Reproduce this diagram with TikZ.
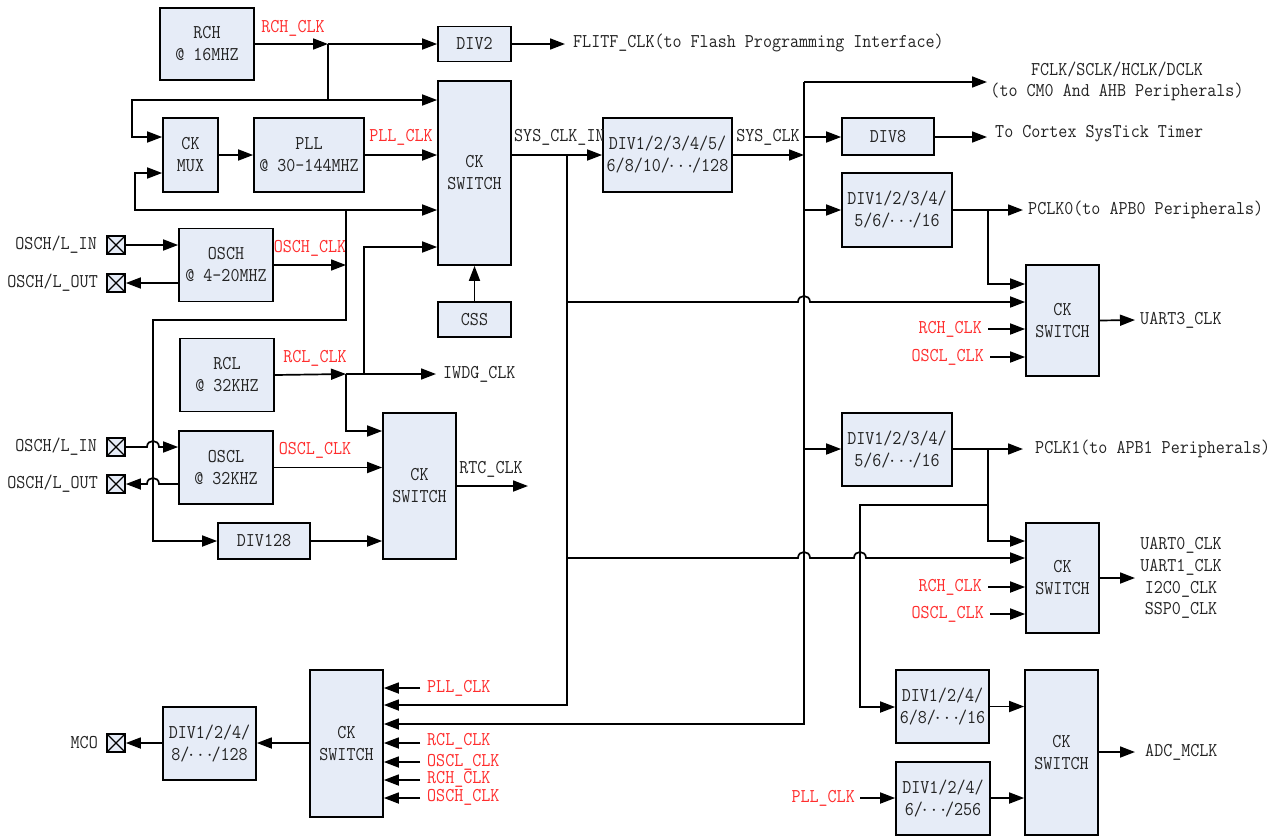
\documentclass[tikz,border=0pt]{standalone}
\usepackage{fontspec}
\setmainfont{Latin Modern Mono}[FakeStretch=0.9]
\usetikzlibrary{arrows.meta}
\definecolor{boxfill}{RGB}{230,236,247}
\definecolor{redtxt}{RGB}{255,45,45}
\definecolor{txt}{RGB}{35,35,35}
\newcommand{\eldots}{\kern-1pt$\cdots$\kern-1pt}
\begin{document}
\begin{tikzpicture}[x=1pt,y=-1pt,
  font=\fontsize{19.5}{22}\selectfont,
  box/.style={draw, line width=1.7pt, fill=boxfill, align=center, inner sep=0pt, text=txt},
  wire/.style={line width=1.7pt},
  arr/.style={wire, -{Triangle[length=15pt,width=11pt]}},
  lbl/.style={inner sep=0pt, text=txt},
  rlbl/.style={inner sep=0pt, text=redtxt},
  pin/.style={draw, line width=1.7pt, fill=boxfill, minimum size=18pt, inner sep=0pt,
    path picture={\draw[line width=1.3pt] (path picture bounding box.south west) -- (path picture bounding box.north east) (path picture bounding box.north west) -- (path picture bounding box.south east);}}
]
\useasboundingbox (0,0) rectangle (1282,836);

% ---------- boxes ----------
\node[box, minimum width=94pt, minimum height=72pt] (rch) at (207,44) {RCH\\@ 16MHZ};
\node[box, minimum width=73pt, minimum height=35pt] (div2) at (474.5,44) {DIV2};
\node[box, minimum width=73pt, minimum height=184pt] (sw1) at (474.5,173) {CK\\SWITCH};
\node[box, minimum width=55pt, minimum height=74pt] (ckmux) at (190.5,155) {CK\\MUX};
\node[box, minimum width=110pt, minimum height=74pt] (pll) at (309,155) {PLL\\@ 30-144MHZ};
\node[box, minimum width=94pt, minimum height=73pt] (osch) at (226,265) {OSCH\\@ 4-20MHZ};
\node[box, minimum width=73pt, minimum height=35pt] (css) at (474.5,319.5) {CSS};
\node[box, minimum width=94pt, minimum height=73pt] (rcl) at (227,375) {RCL\\@ 32KHZ};
\node[box, minimum width=94pt, minimum height=73pt] (oscl) at (226,467.5) {OSCL\\@ 32KHZ};
\node[box, minimum width=73pt, minimum height=146pt] (sw2) at (419.5,486) {CK\\SWITCH};
\node[box, minimum width=92pt, minimum height=36pt] (div128) at (264,541) {DIV128};
\node[box, minimum width=129pt, minimum height=74pt] (divmain) at (667.5,155) {DIV1/2/3/4/5/\\6/8/10/\eldots/128};
\node[box, minimum width=92pt, minimum height=37pt] (div8) at (888,136.5) {DIV8};
\node[box, minimum width=110pt, minimum height=74pt] (divapbz) at (897,210) {DIV1/2/3/4/\\5/6/\eldots/16};
\node[box, minimum width=73pt, minimum height=111pt] (sw3) at (1062.5,320.5) {CK\\SWITCH};
\node[box, minimum width=110pt, minimum height=73pt] (divapbo) at (897,449.5) {DIV1/2/3/4/\\5/6/\eldots/16};
\node[box, minimum width=73pt, minimum height=110pt] (sw4) at (1062.5,578) {CK\\SWITCH};
\node[box, minimum width=93pt, minimum height=73pt] (divadca) at (942.5,706.5) {DIV1/2/4/\\6/8/\eldots/16};
\node[box, minimum width=94pt, minimum height=73pt] (divadcb) at (943,798.5) {DIV1/2/4/\\6/\eldots/256};
\node[box, minimum width=73pt, minimum height=165pt] (sw5) at (1061.5,752.5) {CK\\SWITCH};
\node[box, minimum width=73pt, minimum height=147pt] (swmco) at (346.5,743.5) {CK\\SWITCH};
\node[box, minimum width=93pt, minimum height=73pt] (divmco) at (209.5,743.5) {DIV1/2/4/\\8/\eldots/128};

% ---------- pins ----------
\node[pin] (pa) at (116,245) {};
\node[pin] (pb) at (116,283) {};
\node[pin] (pc) at (116,447) {};
\node[pin] (pd) at (116,484) {};
\node[pin] (pe) at (116,743) {};
\node[lbl, anchor=east] (pal) at (97,245) {OSCH/L\_IN};
\node[lbl, anchor=east] (pbl) at (98,283) {OSCH/L\_OUT};
\node[lbl, anchor=east] (pcl) at (97,447) {OSCH/L\_IN};
\node[lbl, anchor=east] (pdl) at (98,484) {OSCH/L\_OUT};
\node[lbl, anchor=east] (pel) at (98,743) {MCO};

% ---------- junction coordinates ----------
\coordinate (jr) at (328,44);
\coordinate (jo) at (346,265);
\coordinate (jl) at (346,374);
\coordinate (js) at (567,155);
\coordinate (jc) at (804,155);

% ---------- top left wiring ----------
\draw[arr] (rch.east) -- (jr);
\draw[arr] (jr) -- (div2.west);
\draw[arr] (div2.east) -- (565,44);
\node[lbl, anchor=west] (flitf) at (573,43) {FLITF\_CLK(to Flash Programming Interface)};
\node[rlbl] (rchl) at (293,28) {RCH\_CLK};
\draw[arr] (jr) |- (sw1.west|-0,100);
\draw[arr] (jr|-0,100) -- (132,100) |- (ckmux.west|-0,137);
\draw[arr] (ckmux.east) -- (pll.west);
\draw[arr] (pll.east) -- (sw1.west|-pll.east);
\node[rlbl] (plll) at (401,137) {PLL\_CLK};
\draw[arr] (346,210) -- (sw1.west|-0,210);
\draw[arr] (346,210) -- (135,210) |- (ckmux.west|-0,173);
\draw[arr] (osch.east) -- (jo);
\node[rlbl] (oschl) at (310,248) {OSCH\_CLK};
\draw[arr] (346,210) |- (153,320) |- (div128.west);
\draw[arr] (jl) -| (364,300) |- (sw1.west|-0,247);
\draw[arr] (css.north) -- (sw1.south);
\draw[arr] (pa.east) -- (osch.west|-pa);
\draw[arr] (osch.west|-pb) -- (pb.east);

% ---------- RCL / OSCL / RTC ----------
\draw[arr] (rcl.east) -- (jl);
\node[rlbl] (rcll) at (315,358) {RCL\_CLK};
\draw[arr] (jl) -- (436,374);
\node[lbl, anchor=west] (iwdg) at (443,374) {IWDG\_CLK};
\draw[arr] (jl) |- (sw2.west|-0,431);
\draw[arr] (oscl.east) -- (sw2.west|-oscl.east);
\node[rlbl] (oscll) at (315,450) {OSCL\_CLK};
\draw[arr] (sw2.east) -- (528,486);
\node[lbl] (rtcl) at (491,469) {RTC\_CLK};
\draw[arr] (div128.east) -- (sw2.west|-div128.east);
\draw[arr] (pc.east) -- (147,447) .. controls (147,439) and (159,439) .. (159,447) -- (oscl.west|-pc);
\draw[arr] (oscl.west|-pd) -- (159,484) .. controls (159,476) and (147,476) .. (147,484) -- (pd.east);

% ---------- system clock ----------
\draw[arr] (sw1.east|-js) -- (divmain.west);
\node[lbl, anchor=west] (sysin) at (514,137) {SYS\_CLK\_IN};
\draw[arr] (divmain.east) -- (jc);
\node[lbl] (sysl) at (768,137) {SYS\_CLK};
\draw[arr] (js) |- (swmco.east|-0,705);
\draw[arr] (804,82) |- (swmco.east|-0,724);
\draw[arr] (804,82) -- (987,82);
\node[lbl] (fclk) at (1117,70) {FCLK/SCLK/HCLK/DCLK};
\node[lbl] (fclkb) at (1117,92) {(to CM0 And AHB Peripherals)};
\draw[arr] (804,137) -- (div8.west|-0,137);
\draw[arr] (div8.east|-0,137) -- (987,137);
\node[lbl, anchor=west] (systick) at (995,134) {To Cortex SysTick Timer};

% ---------- APB0 / UART3 ----------
\draw[arr] (804,210) -- (divapbz.west);
\draw[arr] (divapbz.east) -- (1023,210);
\node[lbl, anchor=west] (pclkz) at (1028,210) {PCLK0(to APB0 Peripherals)};
\draw[arr] (988,210) |- (sw3.west|-0,284);
\draw[arr] (js|-0,302) -- (798,302) .. controls (798,294) and (810,294) .. (810,302) -- (sw3.west|-0,302);
\draw[arr] (988,329) -- (sw3.west|-0,329);
\node[rlbl, anchor=east] (rchb) at (982,329) {RCH\_CLK};
\draw[arr] (990,357) -- (sw3.west|-0,357);
\node[rlbl, anchor=east] (osclb) at (984,357) {OSCL\_CLK};
\draw[arr] (sw3.east) -- (1135,320);
\node[lbl, anchor=west] (uartt) at (1140,320) {UART3\_CLK};

% ---------- APB1 / UART0 ----------
\draw[arr] (804,449) -- (divapbo.west|-0,449);
\draw[arr] (divapbo.east|-0,449) -- (1023,449);
\node[lbl, anchor=west] (pclko) at (1035,449) {PCLK1(to APB1 Peripherals)};
\draw[arr] (988,449) |- (sw4.west|-0,541);
\draw[arr] (988,505) -| (860,707) -- (divadca.west|-0,707);
\draw[arr] (js|-0,558) -- (798,558) .. controls (798,550) and (810,550) .. (810,558) -- (854,558) .. controls (854,550) and (866,550) .. (866,558) -- (sw4.west|-0,558);
\draw[arr] (988,587) -- (sw4.west|-0,587);
\node[rlbl, anchor=east] (rchc) at (982,587) {RCH\_CLK};
\draw[arr] (990,614) -- (sw4.west|-0,614);
\node[rlbl, anchor=east] (osclc) at (984,614) {OSCL\_CLK};
\draw[arr] (sw4.east) -- (1135,578);
\node[lbl] (uz) at (1181,545) {UART0\_CLK};
\node[lbl] (uo) at (1181,567) {UART1\_CLK};
\node[lbl] (ic) at (1181,589) {I2C0\_CLK};
\node[lbl] (ssp) at (1181,610) {SSP0\_CLK};

% ---------- ADC ----------
\draw[arr] (divadca.east) -- (sw5.west|-divadca.east);
\draw[arr] (860,798) -- (divadcb.west|-0,798);
\node[rlbl, anchor=east] (pllb) at (855,798) {PLL\_CLK};
\draw[arr] (divadcb.east|-0,798) -- (sw5.west|-0,798);
\draw[arr] (sw5.east|-0,752) -- (1135,752);
\node[lbl, anchor=west] (adc) at (1145,752) {ADC\_MCLK};

% ---------- MCO ----------
\draw[arr] (420,688) -- (swmco.east|-0,688);
\node[rlbl, anchor=west] (pllc) at (427,688) {PLL\_CLK};
\draw[arr] (420,743) -- (swmco.east|-0,743);
\node[rlbl, anchor=west] (rclb) at (427,741) {RCL\_CLK};
\draw[arr] (420,762) -- (swmco.east|-0,762);
\node[rlbl, anchor=west] (oscld) at (427,762) {OSCL\_CLK};
\draw[arr] (420,780) -- (swmco.east|-0,780);
\node[rlbl, anchor=west] (rchd) at (427,779) {RCH\_CLK};
\draw[arr] (420,798) -- (swmco.east|-0,798);
\node[rlbl, anchor=west] (oschb) at (427,797) {OSCH\_CLK};
\draw[arr] (swmco.west|-0,743) -- (divmco.east|-0,743);
\draw[arr] (divmco.west|-0,743) -- (pe.east);
\end{tikzpicture}
\end{document}
